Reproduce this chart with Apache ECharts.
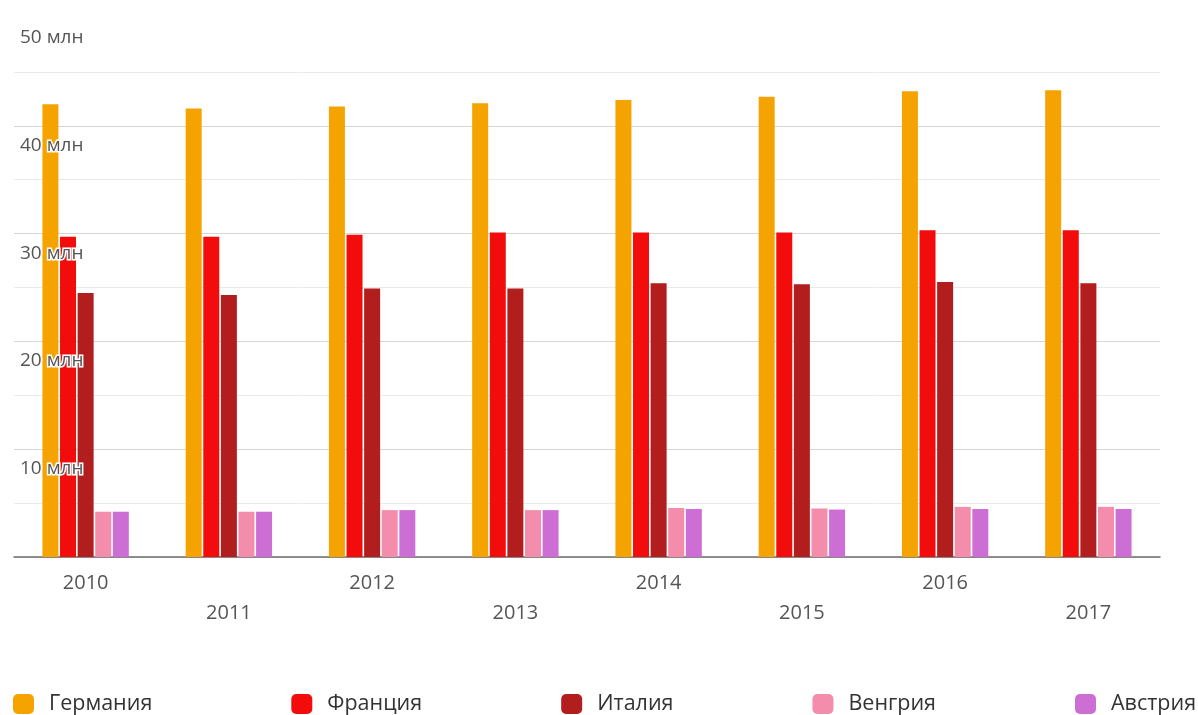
<!DOCTYPE html>
<html>
<head>
<meta charset="utf-8">
<script src="https://cdn.jsdelivr.net/npm/echarts@6/dist/echarts.min.js"></script>
<style>
html,body{margin:0;padding:0;background:#fff;}
#chart{width:1198px;height:715px;}
</style>
</head>
<body>
<div id="chart"></div>
<script>
const years = ['2010','2011','2012','2013','2014','2015','2016','2017'];
const seriesNames = ['Германия','Франция','Италия','Венгрия','Австрия'];
const germany = [42.0, 41.6, 41.8, 42.1, 42.4, 42.7, 43.2, 43.3];
const france  = [29.7, 29.7, 29.9, 30.1, 30.1, 30.1, 30.3, 30.3];
const italy   = [24.5, 24.3, 24.9, 24.9, 25.4, 25.3, 25.5, 25.4];
const hungary = [4.2, 4.2, 4.35, 4.35, 4.55, 4.5, 4.65, 4.65];
const austria = [4.2, 4.2, 4.35, 4.35, 4.45, 4.4, 4.45, 4.45];
const yTicks = [0, 10, 20, 30, 40, 50];
const unit = ' млн';

const colors = ['#F5A300', '#F20C0C', '#B21D1D', '#F38DAB', '#CC6ED3'];
const values = [germany, france, italy, hungary, austria];
const font = '"Open Sans", "Noto Sans", sans-serif';

const chart = echarts.init(document.getElementById('chart'), null, {renderer: 'canvas'});
const yMin = yTicks[0], yMax = yTicks[yTicks.length - 1], yStep = yTicks[1] - yTicks[0];

chart.setOption({
  animation: false,
  backgroundColor: '#fff',
  grid: {left: 14, right: 38, top: 18, bottom: 158, containLabel: false},
  legend: {
    left: 13, top: 693, width: 1300, padding: 0,
    itemWidth: 21, itemHeight: 20, itemGap: 139,
    icon: 'roundRect',
    textStyle: {fontSize: 21.5, color: '#333', fontFamily: font, padding: [0, 0, 0, 10]},
    data: seriesNames
  },
  xAxis: {
    type: 'category',
    data: years,
    axisLine: {show: true, lineStyle: {color: '#6e6e6e', width: 1.5}},
    axisTick: {show: false},
    axisLabel: {
      interval: 0, margin: 16, color: '#555', fontSize: 20, fontFamily: font,
      formatter: (v, i) => (i % 2 ? '{b|' + v + '}' : '{a|' + v + '}'),
      rich: {
        a: {fontSize: 20, color: '#555', fontFamily: font},
        b: {fontSize: 20, color: '#555', fontFamily: font, padding: [30, 0, 0, 0]}
      }
    }
  },
  yAxis: [{
    type: 'value', min: yMin, max: yMax, interval: yStep,
    axisLine: {show: false}, axisTick: {show: false},
    axisLabel: {show: false},
    splitLine: {show: true, showMaxLine: false,
      lineStyle: {color: ['#d6d6d6','#d6d6d6','#d6d6d6','#d6d6d6','#d6d6d6','rgba(0,0,0,0)'], width: 1.2}},
    minorTick: {show: false, splitNumber: 2},
    minorSplitLine: {show: true, lineStyle: {color: '#eaeaea', width: 1}}
  }, {
    type: 'value', min: yMin, max: yMax, interval: yStep, position: 'left', z: 20,
    axisLine: {show: false}, axisTick: {show: false}, splitLine: {show: false},
    axisLabel: {
      inside: true, align: 'left', verticalAlign: 'top', margin: 6,
      padding: [10, 0, 0, 0],
      color: '#555', fontSize: 19, fontFamily: font,
      textBorderColor: '#fff', textBorderWidth: 3,
      showMinLabel: false,
      formatter: v => v + unit
    }
  }],
  series: seriesNames.map((name, k) => ({
    name, type: 'bar', yAxisIndex: 0,
    data: values[k],
    barWidth: 16, barGap: '10%',
    itemStyle: {color: colors[k]}
  }))
});
</script>
</body>
</html>
